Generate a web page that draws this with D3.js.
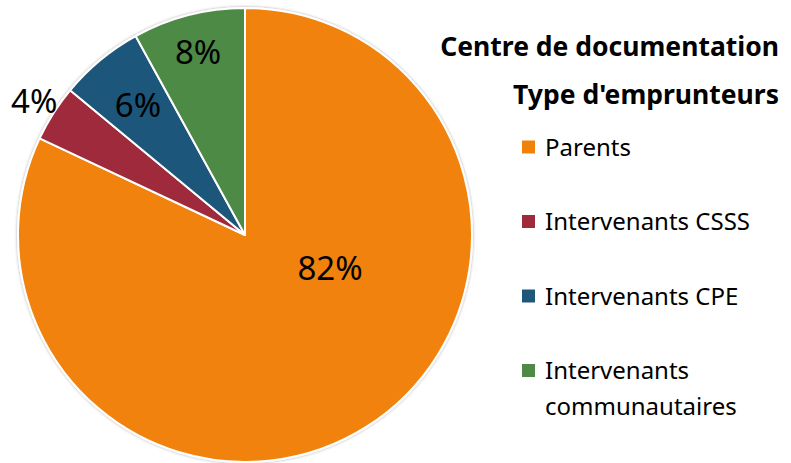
<!DOCTYPE html>
<html>
<head>
<meta charset="utf-8">
<script src="https://cdn.jsdelivr.net/npm/d3@7"></script>
<style>
  body { margin: 0; background: #fff; }
  text { font-family: "Noto Sans", "Open Sans", sans-serif; }
</style>
</head>
<body>
<div id="chart"></div>
<script>
// data
let categories = ["Parents", "Intervenants CSSS", "Intervenants CPE", "Intervenants communautaires"];
let values = [82, 4, 6, 8];
let colors = ["#F0820A", "#9E2A3A", "#1F577A", "#4E8A45"];
let titleLines = ["Centre de documentation", "Type d'emprunteurs"];
let legendLines = [["Parents"], ["Intervenants CSSS"], ["Intervenants CPE"], ["Intervenants", "communautaires"]];

let svgWidth = 791;
let svgHeight = 463;
let radius = 227;
let cx = 245, cy = 235;

let svg = d3.select("#chart")
    .append("svg")
    .attr("width", svgWidth)
    .attr("height", svgHeight);

let defs = svg.append("defs");
let shadow = defs.append("filter")
    .attr("id", "shadow")
    .attr("x", "-10%").attr("y", "-10%")
    .attr("width", "120%").attr("height", "120%");
shadow.append("feDropShadow")
    .attr("dx", 0).attr("dy", 0)
    .attr("stdDeviation", 1.5)
    .attr("flood-color", "#000")
    .attr("flood-opacity", 0.35);

let data = categories.map((c, i) => ({ name: c, value: values[i], color: colors[i] }));

let pie = d3.pie()
    .sort(null)
    .value(d => d.value);

let arc = d3.arc()
    .innerRadius(0)
    .outerRadius(radius);

let pieGroup = svg.append("g")
    .attr("transform", `translate(${cx}, ${cy})`);

let arcs = pie(data);

pieGroup.append("g")
    .attr("filter", "url(#shadow)")
    .selectAll("path")
    .data(arcs)
    .enter()
    .append("path")
    .attr("d", arc)
    .attr("fill", d => d.data.color)
    .attr("stroke", "#fff")
    .attr("stroke-width", 2)
    .attr("stroke-linejoin", "round");

// label radius as fraction of radius (Excel best fit-ish)
let labelRadius = [0.4, 1.1, 0.74, 0.83];
let labelArc = i => d3.arc().innerRadius(radius * labelRadius[i]).outerRadius(radius * labelRadius[i]);

pieGroup.selectAll(".pct")
    .data(arcs)
    .enter()
    .append("text")
    .attr("class", "pct")
    .attr("transform", (d, i) => {
        let p = labelArc(i).centroid(d);
        if (i === 0) p = [85, 33];
        return `translate(${p[0]}, ${p[1]})`;
    })
    .attr("text-anchor", "middle")
    .attr("dy", "0.36em")
    .attr("font-size", "33px")
    .attr("fill", "#000")
    .text(d => d.data.value + "%");

// title
svg.selectAll(".title")
    .data(titleLines)
    .enter()
    .append("text")
    .attr("class", "title")
    .attr("x", 779)
    .attr("y", (d, i) => 56 + i * 48)
    .attr("text-anchor", "end")
    .attr("font-size", "26.5px")
    .attr("font-weight", "bold")
    .attr("fill", "#000")
    .text(d => d);

// legend
let legend = svg.selectAll(".legend")
    .data(data)
    .enter()
    .append("g")
    .attr("class", "legend")
    .attr("transform", (d, i) => `translate(522, ${147 + i * 74.5})`);

legend.append("rect")
    .attr("x", 0)
    .attr("y", -6.5)
    .attr("width", 13)
    .attr("height", 13)
    .attr("fill", d => d.color);

legend.append("text")
    .attr("x", 23)
    .attr("y", 8.5)
    .attr("font-size", "24px")
    .attr("fill", "#000")
    .selectAll("tspan")
    .data((d, i) => legendLines[i])
    .enter()
    .append("tspan")
    .attr("x", 23)
    .attr("dy", (d, j) => j === 0 ? 0 : 36)
    .text(d => d);
</script>
</body>
</html>
